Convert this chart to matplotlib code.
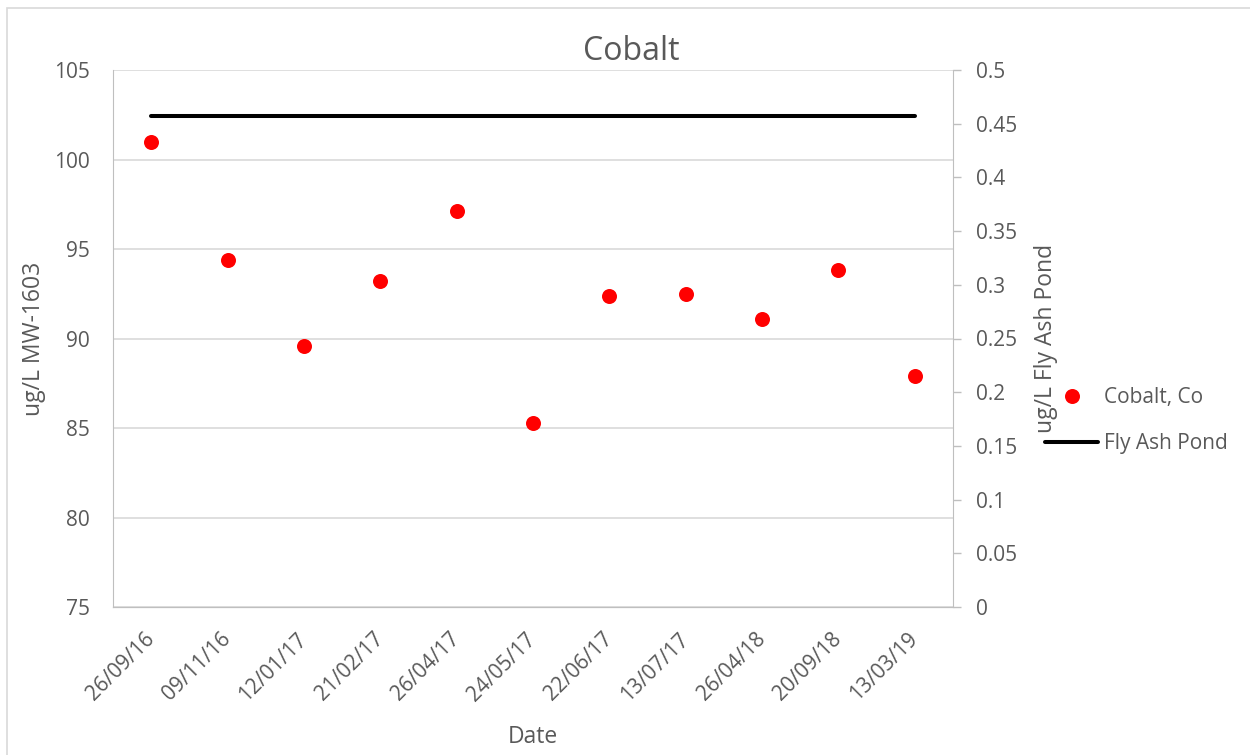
import matplotlib.pyplot as plt
from matplotlib.patches import Rectangle

plt.rcParams['font.family'] = ['Open Sans', 'DejaVu Sans']

dates = ["26/09/16", "09/11/16", "12/01/17", "21/02/17", "26/04/17", "24/05/17",
         "22/06/17", "13/07/17", "26/04/18", "20/09/18", "13/03/19"]
cobalt = [101.0, 94.4, 89.6, 93.2, 97.1, 85.3, 92.4, 92.5, 91.1, 93.8, 87.9]
fly_ash_pond = [0.457, 0.457, 0.457, 0.457, 0.457, 0.457,
                0.457, 0.457, 0.457, 0.457, 0.457]
left_ticks = [75, 80, 85, 90, 95, 100, 105]
right_ticks = [0, 0.05, 0.1, 0.15, 0.2, 0.25, 0.3, 0.35, 0.4, 0.45, 0.5]
right_ticklabels = ["0", "0.05", "0.1", "0.15", "0.2", "0.25", "0.3",
                    "0.35", "0.4", "0.45", "0.5"]

TXT = "#595959"
GRID = "#d9d9d9"
SPINE = "#bfbfbf"
FS = 15       # tick labels / legend
FS_AX = 16.5  # axis titles

W, H = 1250, 755
fig = plt.figure(figsize=(W / 100, H / 100), dpi=100)

# light chart-area border (cropped on right/bottom)
fig.patches.append(Rectangle((7 / W, -0.1), 1.2, 1 - 8 / H + 0.1,
                             transform=fig.transFigure, fill=False,
                             edgecolor=GRID, linewidth=1.2))

ax = fig.add_axes([113 / W, 1 - 607 / H, 840 / W, 537 / H])
ax2 = ax.twinx()

x = list(range(len(dates)))
pts, = ax.plot(x, cobalt, linestyle="none", marker="o", markersize=10.8,
               color="#ff0000", markeredgewidth=0, label="Cobalt, Co", zorder=3)
ln, = ax2.plot(x, fly_ash_pond, color="black", linewidth=2.9,
               solid_capstyle="round", label="Fly Ash Pond")

ax.set_xlim(-0.5, len(dates) - 0.5)
ax.set_ylim(75, 105)
ax.set_yticks(left_ticks)
ax2.set_ylim(0, 0.5)
ax2.set_yticks(right_ticks)
ax2.set_yticklabels(right_ticklabels)

ax.set_xticks(x)
ax.set_xticklabels(dates, rotation=45, ha="right", va="center",
                   rotation_mode="anchor")
ax.tick_params(axis="x", length=0, pad=21, labelsize=FS, labelcolor=TXT)
ax.tick_params(axis="y", length=0, pad=16.5, labelsize=FS, labelcolor=TXT)
ax2.tick_params(axis="y", length=5.8, width=1, color=SPINE, pad=10.8,
                labelsize=FS, labelcolor=TXT)

ax.grid(axis="y", color=GRID, linewidth=1.2)
ax.set_axisbelow(True)
for a in (ax, ax2):
    a.spines["top"].set_visible(False)
    a.spines["left"].set_color(SPINE)
    a.spines["right"].set_color(SPINE)
    a.spines["bottom"].set_color(SPINE)
ax2.spines["left"].set_visible(False)
ax.spines["right"].set_visible(False)

ax.set_xlabel("Date", fontsize=FS_AX, color=TXT, labelpad=14)
ax.set_ylabel("ug/L MW-1603", fontsize=FS_AX, color=TXT, labelpad=6)
ax2.set_ylabel("ug/L Fly Ash Pond", fontsize=FS_AX, color=TXT, labelpad=12)

fig.text(631 / W, 1 - 52 / H, "Cobalt", fontsize=23, color=TXT,
         ha="center", va="center")

fig.legend(handles=[pts, ln], loc="center left",
           bbox_to_anchor=(1045 / W, 1 - 421 / H), frameon=False,
           fontsize=FS, labelcolor=TXT, handlelength=2.55, handletextpad=0.3,
           labelspacing=1.2, borderpad=0, borderaxespad=0)

fig.savefig("out.png", dpi=100)
